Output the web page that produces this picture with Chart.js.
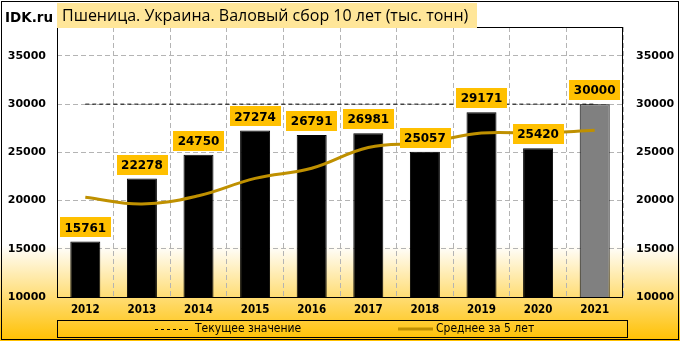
<!DOCTYPE html>
<html>
<head>
<meta charset="utf-8">
<script src="https://cdn.jsdelivr.net/npm/chart.js@4"></script>
<style>
  html, body { margin: 0; padding: 0; background: #fff; }
  #wrap { width: 680px; height: 341px; position: relative;
          background: linear-gradient(to bottom, #FFFFFF 0px, #FFFFFF 245px, #FFC000 341px); }
</style>
</head>
<body>
<div id="wrap"><canvas id="chart" width="680" height="341"></canvas></div>
<script>
/* Данные */
var years = ['2012', '2013', '2014', '2015', '2016', '2017', '2018', '2019', '2020', '2021'];
var harvest = [15761, 22278, 24750, 27274, 26791, 26981, 25057, 29171, 25420, 30000];
var average5 = [20350, 19650, 20500, 22300, 23350, 25500, 26000, 27000, 27000, 27300];
var current = [30000, 30000, 30000, 30000, 30000, 30000, 30000, 30000, 30000, 30000];
var yTicks = [10000, 15000, 20000, 25000, 30000, 35000];

var title = 'Пшеница. Украина. Валовый сбор 10 лет (тыс. тонн)';
var legendCurrent = 'Текущее значение';
var legendAvg = 'Среднее за 5 лет';

var narrow = '"Liberation Sans Narrow", "DejaVu Sans Condensed", sans-serif';
var gold = '#BF9000';

var barColors = harvest.map(function (v, i) { return i == harvest.length - 1 ? '#808080' : '#000000'; });

/* Рамка, заголовок, подписи, легенда */
var decor = {
    id: 'decor',
    afterDatasetsDraw: function (chart) {
        var ctx = chart.ctx;
        var a = chart.chartArea;
        ctx.save();
        ctx.strokeStyle = '#000';
        ctx.lineWidth = 1;
        ctx.strokeRect(Math.round(a.left) + 0.5, Math.round(a.top) + 0.5, Math.round(a.right - a.left) - 1, Math.round(a.bottom - a.top));

        // подписи значений
        var meta = chart.getDatasetMeta(1);
        ctx.font = 'bold 12px "DejaVu Sans", sans-serif';
        ctx.textAlign = 'center';
        ctx.textBaseline = 'middle';
        meta.data.forEach(function (bar, i) {
            var txt = String(harvest[i]);
            var w = ctx.measureText(txt).width + 9;
            var h = 20;
            var bottom = bar.y - 4;
            ctx.fillStyle = '#FFC000';
            ctx.fillRect(Math.round(bar.x - w / 2), Math.round(bottom - h), Math.round(w), h);
            ctx.fillStyle = '#000';
            ctx.fillText(txt, bar.x, bottom - h / 2 + 1);
        });
        ctx.restore();
    },
    afterDraw: function (chart) {
        var ctx = chart.ctx;
        ctx.save();
        // заголовок
        ctx.fillStyle = '#FFE699';
        ctx.fillRect(57, 3, 420, 25);
        ctx.fillStyle = '#000';
        ctx.textBaseline = 'middle';
        ctx.textAlign = 'left';
        ctx.font = '16px "Open Sans", sans-serif';
        ctx.fillText(title, 62, 16);
        ctx.font = 'bold 13.5px "DejaVu Sans", sans-serif';
        ctx.fillText('IDK.ru', 5, 18);

        // легенда
        ctx.strokeStyle = '#000';
        ctx.lineWidth = 1;
        ctx.strokeRect(57.5, 320.5, 570, 17);
        ctx.setLineDash([3, 3]);
        ctx.beginPath();
        ctx.moveTo(155, 329.5);
        ctx.lineTo(189, 329.5);
        ctx.stroke();
        ctx.setLineDash([]);
        ctx.strokeStyle = gold;
        ctx.lineWidth = 3;
        ctx.beginPath();
        ctx.moveTo(398, 329);
        ctx.lineTo(433, 329);
        ctx.stroke();
        ctx.fillStyle = '#000';
        ctx.font = '12px ' + narrow;
        ctx.fillText(legendCurrent, 195, 329);
        ctx.fillText(legendAvg, 436, 329);

        // внешняя рамка
        ctx.strokeStyle = '#000';
        ctx.lineWidth = 1;
        ctx.strokeRect(1.5, 1.5, 677, 338);
        ctx.restore();
    }
};

function plainTick(v) { return String(v); }
function fixedTicks(s) { s.ticks = yTicks.map(function (v) { return { value: v }; }); }

var ctx1 = document.getElementById('chart').getContext('2d');
var myChart = new Chart(ctx1, {
    type: 'bar',
    data: {
        labels: years,
        datasets: [{
            type: 'line',
            label: legendCurrent,
            data: current,
            borderColor: '#000',
            borderWidth: 1,
            borderDash: [4, 3],
            pointRadius: 0,
            fill: false,
            order: 3
        }, {
            label: 'Валовый сбор',
            data: harvest,
            backgroundColor: barColors,
            borderColor: '#000',
            borderWidth: 1,
            categoryPercentage: 1,
            barPercentage: 0.53,
            order: 2
        }, {
            type: 'line',
            label: legendAvg,
            data: average5,
            borderColor: gold,
            borderWidth: 3,
            tension: 0.4,
            pointRadius: 0,
            fill: false,
            order: 1
        }]
    },
    options: {
        responsive: false,
        animation: false,
        layout: { padding: { top: 27, left: 0, right: 0, bottom: 0 } },
        plugins: {
            legend: { display: false },
            title: { display: false },
            tooltip: { enabled: false }
        },
        scales: {
            x: {
                grid: { color: '#B4B4B4', lineWidth: 1, drawTicks: false, offset: true },
                border: { display: false, dash: [5, 3] },
                ticks: { color: '#000', padding: 6, font: { family: narrow, size: 11.5, weight: 'bold' }, maxRotation: 0 },
                afterFit: function (s) { s.height = 44; }
            },
            y: {
                position: 'left',
                min: 10000,
                max: 38000,
                grid: { color: '#B4B4B4', lineWidth: 1, drawTicks: false },
                border: { display: false, dash: [5, 3] },
                ticks: { color: '#000', padding: 11, callback: plainTick, font: { family: '"DejaVu Sans", sans-serif', size: 11, weight: 'bold' } },
                afterBuildTicks: fixedTicks,
                afterFit: function (s) { s.width = 57; }
            },
            y2: {
                position: 'right',
                min: 10000,
                max: 38000,
                grid: { display: false, drawTicks: false },
                border: { display: false },
                ticks: { color: '#000', padding: 13, callback: plainTick, font: { family: '"DejaVu Sans", sans-serif', size: 11, weight: 'bold' } },
                afterBuildTicks: fixedTicks,
                afterFit: function (s) { s.width = 57; }
            }
        }
    },
    plugins: [decor]
});
</script>
</body>
</html>
